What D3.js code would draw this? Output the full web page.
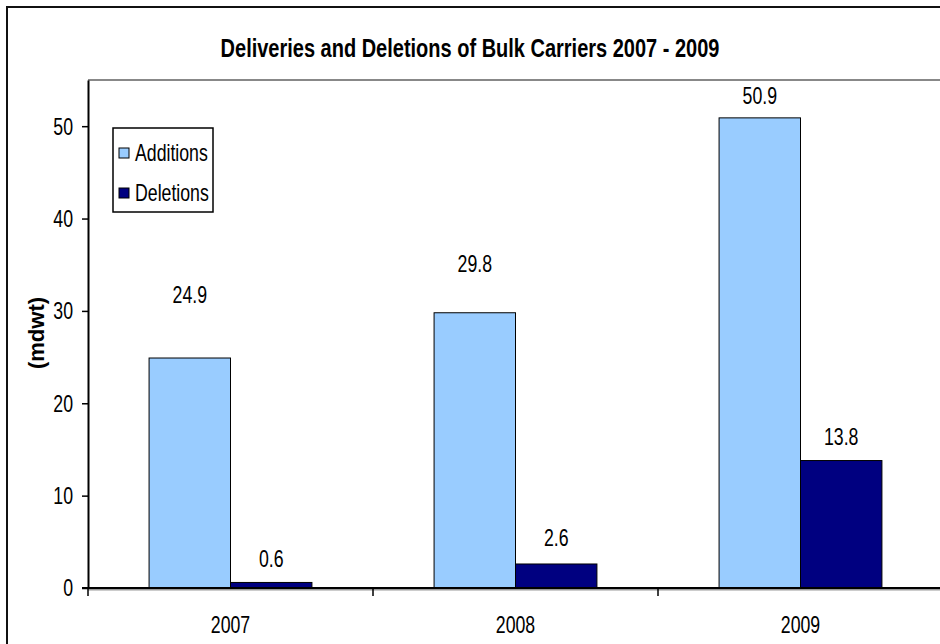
<!DOCTYPE html>
<html>
<head>
<meta charset="utf-8">
<script src="https://cdn.jsdelivr.net/npm/d3@7"></script>
<style>
  html, body { margin: 0; padding: 0; background: #fff; }
  svg { display: block; }
  text { font-family: "Liberation Sans", Arial, sans-serif; fill: #000; }
</style>
</head>
<body>
<svg id="chart" width="940" height="644"></svg>
<script>
// Data
const years = ["2007", "2008", "2009"];
const seriesNames = ["Additions", "Deletions"];
const additions = [24.9, 29.8, 50.9];
const deletions = [0.6, 2.6, 13.8];
const yTicks = [0, 10, 20, 30, 40, 50];
const titleText = "Deliveries and Deletions of Bulk Carriers 2007 - 2009";
const yAxisTitle = "(mdwt)";

// Layout and style
const colors = { Additions: "#99CCFF", Deletions: "#000080" };
const plot = { left: 88, top: 80, bottom: 588, right: 943 };
const fontSize = 23;
const narrow = 0.77;          // horizontal condensing of the label face
// vertical distance (px) from bar top to the centre of its value label
const labelLift = { Additions: [63, 49, 22], Deletions: [24, 26, 24] };

const svg = d3.select("#chart");

// Condensed text placed at (x, y)
function narrowText(parent, x, y, str, opts = {}) {
  return parent.append("text")
    .attr("transform", `translate(${x},${y}) scale(${opts.sx || narrow},1)`)
    .attr("text-anchor", opts.anchor || "middle")
    .attr("dominant-baseline", "central")
    .attr("font-size", opts.size || fontSize)
    .attr("font-weight", opts.weight || "normal")
    .text(str);
}

// Chart frame (runs past the right and bottom edges)
svg.append("rect")
  .attr("x", 7).attr("y", 7).attr("width", 1000).attr("height", 700)
  .attr("fill", "#fff").attr("stroke", "#111").attr("stroke-width", 2);

// Title
narrowText(svg, 470, 49, titleText, { size: 25, weight: "bold", sx: 0.8 });

// Scales
const x = d3.scaleBand().domain(years).range([plot.left, plot.right]).padding(0);
const xs = d3.scaleBand().domain(seriesNames).range([0, x.bandwidth()])
  .paddingInner(0).paddingOuter(0.75);
const y = d3.scaleLinear().domain([0, 55]).range([plot.bottom, plot.top]);

// Plot area top edge
svg.append("line")
  .attr("x1", plot.left).attr("x2", 940)
  .attr("y1", plot.top).attr("y2", plot.top)
  .attr("stroke", "#888").attr("stroke-width", 2);

// Bars and value labels
const rows = years.map((yr, i) => ({ year: yr, Additions: additions[i], Deletions: deletions[i], i }));
const barLayer = svg.append("g");
const labelLayer = svg.append("g");
rows.forEach(d => {
  seriesNames.forEach(s => {
    const bx = x(d.year) + xs(s);
    barLayer.append("rect")
      .attr("x", bx)
      .attr("y", y(d[s]))
      .attr("width", xs.bandwidth())
      .attr("height", y(0) - y(d[s]))
      .attr("fill", colors[s])
      .attr("stroke", "#000").attr("stroke-width", 1);
    narrowText(labelLayer, bx + xs.bandwidth() / 2, y(d[s]) - labelLift[s][d.i],
      d3.format(".1f")(d[s]));
  });
});

// Y axis
const yAxis = d3.axisLeft(y).tickValues(yTicks).tickSize(6).tickFormat("").tickSizeOuter(0);
const gy = svg.append("g").attr("transform", `translate(${plot.left},0)`).call(yAxis);
gy.select(".domain").attr("stroke", "#000").attr("stroke-width", 2);
gy.selectAll(".tick line").attr("stroke", "#000").attr("stroke-width", 1.5);
const yLabels = svg.append("g");
yTicks.forEach(t => narrowText(yLabels, plot.left - 15, y(t), String(t), { anchor: "end" }));

// X axis (baseline with boundary ticks between categories)
svg.append("line")
  .attr("x1", plot.left).attr("x2", 940)
  .attr("y1", y(0) + 1.5).attr("y2", y(0) + 1.5)
  .attr("stroke", "#999").attr("stroke-width", 2);
svg.append("line")
  .attr("x1", plot.left - 6).attr("x2", 940)
  .attr("y1", y(0)).attr("y2", y(0))
  .attr("stroke", "#000").attr("stroke-width", 2);
svg.append("g").selectAll("line").data(years).join("line")
  .attr("x1", d => x(d)).attr("x2", d => x(d))
  .attr("y1", y(0)).attr("y2", y(0) + 8)
  .attr("stroke", "#000").attr("stroke-width", 1.5);
const xLabels = svg.append("g");
years.forEach(yr => narrowText(xLabels, x(yr) + x.bandwidth() / 2, 625, yr));

// Y axis title
svg.append("text")
  .attr("transform", "translate(36,333) rotate(-90)")
  .attr("text-anchor", "middle").attr("dominant-baseline", "central")
  .attr("font-family", "'DejaVu Sans', Verdana, sans-serif")
  .attr("font-size", 22).attr("font-weight", "bold")
  .text(yAxisTitle);

// Legend
const legend = svg.append("g");
legend.append("rect")
  .attr("x", 113).attr("y", 128).attr("width", 100).attr("height", 84)
  .attr("fill", "#fff").attr("stroke", "#000").attr("stroke-width", 1.5);
seriesNames.forEach((s, i) => {
  const cy = 153 + i * 40;
  legend.append("rect")
    .attr("x", 119).attr("y", cy - 5).attr("width", 10).attr("height", 10)
    .attr("fill", colors[s]).attr("stroke", "#000").attr("stroke-width", 1);
  narrowText(legend, 135, cy, s, { anchor: "start" });
});
</script>
</body>
</html>
